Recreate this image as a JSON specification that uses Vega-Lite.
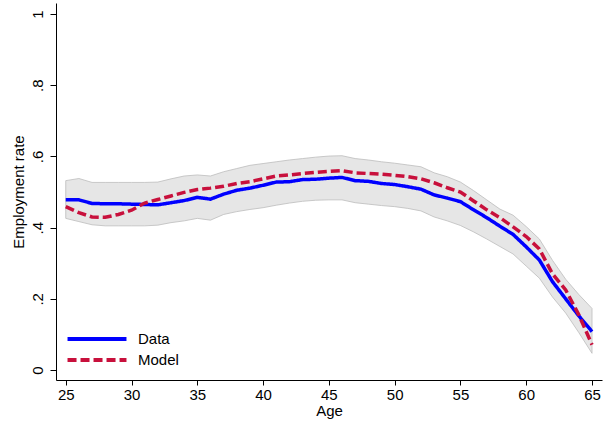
{
  "$schema": "https://vega.github.io/schema/vega-lite/v6.json",
  "width": 546,
  "height": 377,
  "autosize": {"type": "none"},
  "padding": {"left": 56, "top": 3, "right": 5, "bottom": 45},
  "background": "white",
  "config": {
    "view": {"stroke": null},
    "font": "Liberation Sans",
    "axis": {"grid": false, "domainColor": "#000000", "tickColor": "#000000", "labelColor": "#000000", "titleColor": "#000000", "labelFontSize": 15, "titleFontSize": 15, "titleFontWeight": "normal", "labelFont": "Liberation Sans", "titleFont": "Liberation Sans"},
    "legend": {"labelFontSize": 15, "labelFont": "Liberation Sans", "labelColor": "#000000"}
  },
  "datasets": {
    "band": [
      {"age": 25, "lo": 0.426, "hi": 0.532}, {"age": 26, "lo": 0.417, "hi": 0.538}, {"age": 27, "lo": 0.408, "hi": 0.527},
      {"age": 28, "lo": 0.405, "hi": 0.527}, {"age": 29, "lo": 0.405, "hi": 0.527}, {"age": 30, "lo": 0.405, "hi": 0.527},
      {"age": 31, "lo": 0.405, "hi": 0.527}, {"age": 32, "lo": 0.407, "hi": 0.528}, {"age": 33, "lo": 0.414, "hi": 0.537},
      {"age": 34, "lo": 0.419, "hi": 0.545}, {"age": 35, "lo": 0.426, "hi": 0.548}, {"age": 36, "lo": 0.421, "hi": 0.545},
      {"age": 37, "lo": 0.437, "hi": 0.557}, {"age": 38, "lo": 0.445, "hi": 0.566}, {"age": 39, "lo": 0.451, "hi": 0.575},
      {"age": 40, "lo": 0.456, "hi": 0.580}, {"age": 41, "lo": 0.463, "hi": 0.585}, {"age": 42, "lo": 0.469, "hi": 0.590},
      {"age": 43, "lo": 0.474, "hi": 0.594}, {"age": 44, "lo": 0.477, "hi": 0.598}, {"age": 45, "lo": 0.478, "hi": 0.601},
      {"age": 46, "lo": 0.478, "hi": 0.602}, {"age": 47, "lo": 0.470, "hi": 0.594}, {"age": 48, "lo": 0.466, "hi": 0.590},
      {"age": 49, "lo": 0.462, "hi": 0.585}, {"age": 50, "lo": 0.459, "hi": 0.581}, {"age": 51, "lo": 0.454, "hi": 0.576},
      {"age": 52, "lo": 0.447, "hi": 0.571}, {"age": 53, "lo": 0.430, "hi": 0.554}, {"age": 54, "lo": 0.419, "hi": 0.543},
      {"age": 55, "lo": 0.406, "hi": 0.528}, {"age": 56, "lo": 0.388, "hi": 0.504}, {"age": 57, "lo": 0.368, "hi": 0.478},
      {"age": 58, "lo": 0.347, "hi": 0.452}, {"age": 59, "lo": 0.326, "hi": 0.435}, {"age": 60, "lo": 0.292, "hi": 0.403},
      {"age": 61, "lo": 0.258, "hi": 0.368}, {"age": 62, "lo": 0.205, "hi": 0.308}, {"age": 63, "lo": 0.160, "hi": 0.255},
      {"age": 64, "lo": 0.105, "hi": 0.212}, {"age": 65, "lo": 0.047, "hi": 0.173}
    ],
    "lines": [
      {"age": 25, "series": "Data", "rate": 0.478}, {"age": 26, "series": "Data", "rate": 0.478}, {"age": 27, "series": "Data", "rate": 0.468},
      {"age": 28, "series": "Data", "rate": 0.467}, {"age": 29, "series": "Data", "rate": 0.467}, {"age": 30, "series": "Data", "rate": 0.466},
      {"age": 31, "series": "Data", "rate": 0.465}, {"age": 32, "series": "Data", "rate": 0.464}, {"age": 33, "series": "Data", "rate": 0.470},
      {"age": 34, "series": "Data", "rate": 0.476}, {"age": 35, "series": "Data", "rate": 0.485}, {"age": 36, "series": "Data", "rate": 0.480},
      {"age": 37, "series": "Data", "rate": 0.494}, {"age": 38, "series": "Data", "rate": 0.505}, {"age": 39, "series": "Data", "rate": 0.511},
      {"age": 40, "series": "Data", "rate": 0.519}, {"age": 41, "series": "Data", "rate": 0.528}, {"age": 42, "series": "Data", "rate": 0.529},
      {"age": 43, "series": "Data", "rate": 0.535}, {"age": 44, "series": "Data", "rate": 0.536}, {"age": 45, "series": "Data", "rate": 0.539},
      {"age": 46, "series": "Data", "rate": 0.541}, {"age": 47, "series": "Data", "rate": 0.532}, {"age": 48, "series": "Data", "rate": 0.530},
      {"age": 49, "series": "Data", "rate": 0.524}, {"age": 50, "series": "Data", "rate": 0.521}, {"age": 51, "series": "Data", "rate": 0.515},
      {"age": 52, "series": "Data", "rate": 0.508}, {"age": 53, "series": "Data", "rate": 0.492}, {"age": 54, "series": "Data", "rate": 0.483},
      {"age": 55, "series": "Data", "rate": 0.473}, {"age": 56, "series": "Data", "rate": 0.450}, {"age": 57, "series": "Data", "rate": 0.428},
      {"age": 58, "series": "Data", "rate": 0.404}, {"age": 59, "series": "Data", "rate": 0.381}, {"age": 60, "series": "Data", "rate": 0.346},
      {"age": 61, "series": "Data", "rate": 0.309}, {"age": 62, "series": "Data", "rate": 0.248}, {"age": 63, "series": "Data", "rate": 0.200},
      {"age": 64, "series": "Data", "rate": 0.152}, {"age": 65, "series": "Data", "rate": 0.108},
      {"age": 25, "series": "Model", "rate": 0.459}, {"age": 26, "series": "Model", "rate": 0.442}, {"age": 27, "series": "Model", "rate": 0.430},
      {"age": 28, "series": "Model", "rate": 0.429}, {"age": 29, "series": "Model", "rate": 0.437}, {"age": 30, "series": "Model", "rate": 0.449},
      {"age": 31, "series": "Model", "rate": 0.469}, {"age": 32, "series": "Model", "rate": 0.479}, {"age": 33, "series": "Model", "rate": 0.489},
      {"age": 34, "series": "Model", "rate": 0.499}, {"age": 35, "series": "Model", "rate": 0.507}, {"age": 36, "series": "Model", "rate": 0.511},
      {"age": 37, "series": "Model", "rate": 0.516}, {"age": 38, "series": "Model", "rate": 0.524}, {"age": 39, "series": "Model", "rate": 0.529},
      {"age": 40, "series": "Model", "rate": 0.537}, {"age": 41, "series": "Model", "rate": 0.545}, {"age": 42, "series": "Model", "rate": 0.548},
      {"age": 43, "series": "Model", "rate": 0.552}, {"age": 44, "series": "Model", "rate": 0.555}, {"age": 45, "series": "Model", "rate": 0.558},
      {"age": 46, "series": "Model", "rate": 0.560}, {"age": 47, "series": "Model", "rate": 0.554}, {"age": 48, "series": "Model", "rate": 0.552},
      {"age": 49, "series": "Model", "rate": 0.550}, {"age": 50, "series": "Model", "rate": 0.547}, {"age": 51, "series": "Model", "rate": 0.543},
      {"age": 52, "series": "Model", "rate": 0.537}, {"age": 53, "series": "Model", "rate": 0.526}, {"age": 54, "series": "Model", "rate": 0.512},
      {"age": 55, "series": "Model", "rate": 0.500}, {"age": 56, "series": "Model", "rate": 0.475}, {"age": 57, "series": "Model", "rate": 0.450},
      {"age": 58, "series": "Model", "rate": 0.428}, {"age": 59, "series": "Model", "rate": 0.402}, {"age": 60, "series": "Model", "rate": 0.375},
      {"age": 61, "series": "Model", "rate": 0.340}, {"age": 62, "series": "Model", "rate": 0.270}, {"age": 63, "series": "Model", "rate": 0.225},
      {"age": 64, "series": "Model", "rate": 0.155}, {"age": 65, "series": "Model", "rate": 0.071}
    ]
  },
  "layer": [
    {
      "data": {"name": "band"},
      "mark": {"type": "area", "fill": "#e6e6e6", "stroke": "#bdbdbd", "strokeWidth": 0.8},
      "encoding": {
        "x": {"field": "age", "type": "quantitative", "scale": {"domain": [24.26, 65.76], "nice": false, "zero": false},
              "axis": {"title": "Age", "values": [25, 30, 35, 40, 45, 50, 55, 60, 65], "tickSize": 5, "labelPadding": 2, "titlePadding": 1, "domainWidth": 1}},
        "y": {"field": "hi", "type": "quantitative", "scale": {"domain": [-0.028, 1.031], "nice": false, "zero": false},
              "axis": {"title": "Employment rate", "values": [0, 0.2, 0.4, 0.6, 0.8, 1], "tickSize": 6, "labelAngle": -90, "labelAlign": "center", "labelBaseline": "bottom", "labelPadding": 5, "titlePadding": 4,
                       "labelExpr": "datum.value == 0 ? '0' : datum.value == 1 ? '1' : replace(format(datum.value, '.1f'), '0.', '.')"}},
        "y2": {"field": "lo"}
      }
    },
    {
      "data": {"name": "lines"},
      "mark": {"type": "line", "strokeWidth": 3.5},
      "encoding": {
        "x": {"field": "age", "type": "quantitative"},
        "y": {"field": "rate", "type": "quantitative"},
        "color": {"field": "series", "type": "nominal", "scale": {"domain": ["Data", "Model"], "range": ["#0000ff", "#c8103c"]},
                  "legend": {"title": null, "orient": "none", "legendX": 33, "legendY": 328, "symbolType": "M-5,0H5", "symbolSize": 139, "symbolStrokeWidth": 4, "labelOffset": 33, "rowPadding": 5, "padding": 0}},
        "strokeDash": {"field": "series", "type": "nominal", "scale": {"domain": ["Data", "Model"], "range": [[1, 0], [9, 4]]},
                  "legend": {"title": null, "orient": "none", "legendX": 33, "legendY": 328, "symbolType": "M-5,0H5", "symbolSize": 139, "symbolStrokeWidth": 4, "labelOffset": 33, "rowPadding": 5, "padding": 0}}
      }
    }
  ]
}
